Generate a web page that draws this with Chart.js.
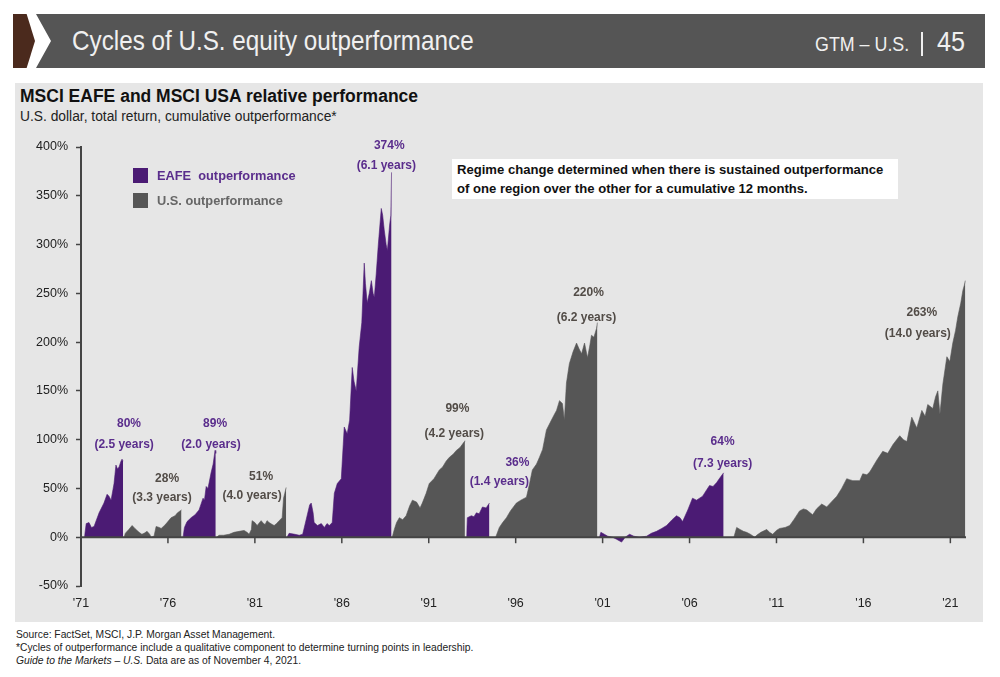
<!DOCTYPE html>
<html>
<head>
<meta charset="utf-8">
<script src="https://cdn.jsdelivr.net/npm/chart.js@4.4.0/dist/chart.umd.min.js"></script>
<style>
  html,body{margin:0;padding:0;}
  body{width:1000px;height:677px;background:#fff;position:relative;overflow:hidden;font-family:"Liberation Sans",Arial,sans-serif;}
  .abs{position:absolute;}
  #chev{left:13px;top:14px;width:22px;height:54px;background:#4b2a1d;clip-path:polygon(0 0,62% 0,100% 50%,62% 100%,0 100%);}
  #bar{left:36px;top:14px;width:949px;height:54px;background:#555555;clip-path:polygon(0 0,100% 0,100% 100%,0 100%,15px 50%);}
  #htitle{left:72px;top:24px;font-size:28px;color:#f0f0f0;line-height:34px;white-space:nowrap;transform:scaleX(0.866);transform-origin:0 0;}
  #hgtm{left:815px;top:31px;font-size:21px;color:#f0f0f0;line-height:26px;white-space:nowrap;transform:scaleX(0.85);transform-origin:0 0;}
  #hsep{left:921px;top:32px;width:2px;height:24px;background:#f0f0f0;}
  #hnum{left:937px;top:25px;font-size:28px;color:#f0f0f0;line-height:34px;transform:scaleX(0.9);transform-origin:0 0;}
  #panel{left:15px;top:83px;width:968px;height:539px;background:#e6e6e6;}
  #ctitle{left:20px;top:86px;font-size:17.5px;font-weight:bold;color:#111;white-space:nowrap;line-height:21px;}
  #csub{left:20px;top:109px;font-size:13.8px;color:#222;white-space:nowrap;line-height:16px;}
  #wrap{left:15px;top:125px;width:970px;height:495px;}
  .lsq{width:15px;height:15px;}
  .ltx{font-size:12.8px;font-weight:bold;white-space:nowrap;line-height:16px;}
  #note{left:452px;top:159px;width:446px;height:40px;background:#fff;font-size:13.1px;font-weight:bold;color:#111;line-height:19px;padding:1px 0 0 5px;box-sizing:border-box;white-space:nowrap;}
  #foot{left:16px;top:628px;font-size:10.3px;color:#222;line-height:13px;white-space:nowrap;}
</style>
</head>
<body>
<div id="chev" class="abs"></div>
<div id="bar" class="abs"></div>
<div id="htitle" class="abs">Cycles of U.S. equity outperformance</div>
<div id="hgtm" class="abs">GTM – U.S.</div>
<div id="hsep" class="abs"></div>
<div id="hnum" class="abs">45</div>
<div id="panel" class="abs"></div>
<div id="ctitle" class="abs">MSCI EAFE and MSCI USA relative performance</div>
<div id="csub" class="abs">U.S. dollar, total return, cumulative outperformance*</div>
<div id="wrap" class="abs"><canvas id="c" width="970" height="495"></canvas></div>
<div class="abs lsq" style="left:133px;top:168px;background:#4b1b74;"></div>
<div class="abs ltx" style="left:157px;top:168px;color:#5a2d8c;">EAFE&nbsp; outperformance</div>
<div class="abs lsq" style="left:133px;top:193px;background:#565656;"></div>
<div class="abs ltx" style="left:157px;top:193px;color:#666;">U.S. outperformance</div>
<div id="note" class="abs">Regime change determined when there is sustained outperformance<br>of one region over the other for a cumulative 12 months.</div>
<div id="foot" class="abs">Source: FactSet, MSCI, J.P. Morgan Asset Management.<br>*Cycles of outperformance include a qualitative component to determine turning points in leadership.<br><i>Guide to the Markets – U.S.</i> Data are as of November 4, 2021.</div>

<script>
// ---------- DATA ----------
// EAFE outperformance cycles: [year, cumulative %]; null separates cycles
const eafeYears = [
  1971.20,1971.30,1971.46,1971.60,1971.75,1972.04,1972.32,1972.50,1972.61,1972.73,1972.90,1973.01,1973.10,1973.19,1973.30,1973.36,1973.42, 1973.45,
  1976.87,1976.95,1977.10,1977.33,1977.56,1977.79,1978.02,1978.10,1978.20,1978.30,1978.37,1978.48,1978.60,1978.71,1978.75, 1978.78,
  1982.85,1982.97,1983.30,1983.55,1983.75,1983.95,1984.15,1984.24,1984.35,1984.41,1984.60,1984.82,1985.00,1985.15,1985.28,1985.45,1985.57,1985.74,1985.97,1986.14,1986.31,1986.45,1986.60,1986.70,1986.83,1987.00,1987.15,1987.29,1987.36,1987.46,1987.58,1987.70,1987.80,1987.87,1987.98,1988.10,1988.27,1988.35,1988.44,1988.55,1988.62,1988.75,1988.82,1988.86, 1988.88,
  1993.18,1993.22,1993.45,1993.60,1993.74,1993.90,1994.09,1994.30,1994.49, 1994.52,
  2000.82,2000.90,2001.10,2001.30,2001.57,2001.80,2002.09,2002.30,2002.55,2002.80,2003.12,2003.53,2003.80,2004.10,2004.40,2004.68,2005.00,2005.25,2005.45,2005.60,2005.90,2006.17,2006.40,2006.75,2007.00,2007.15,2007.35,2007.56,2007.75,2007.96
];
const eafeValues = [
  0,14,15,10,11,25,35,44,42,38,55,74,70,72,78,80,78, null,
  0,10,16,20,23,28,40,38,52,50,56,66,75,89,86, null,
  0,4,3,2,3,18,33,35,25,15,12,14,10,14,12,15,45,55,60,113,106,120,174,160,150,195,220,281,260,240,250,263,250,246,270,300,337,330,315,300,294,320,330,374, null,
  0,20,22,21,25,24,31,30,35, null,
  0,5,3,1,0,-2,-5,0,3,1,0,1,4,6,9,12,18,22,20,16,28,40,38,42,49,53,52,56,61,66
];
// U.S. outperformance cycles
const usYears = [
  1973.48,1973.55,1973.75,1973.94,1974.10,1974.34,1974.50,1974.63,1974.80,1974.95,1975.03,1975.20,1975.32,1975.50,1975.61,1975.80,1975.95,1976.18,1976.41,1976.55,1976.70,1976.78, 1976.80,
  1978.80,1978.94,1979.20,1979.52,1979.80,1980.10,1980.38,1980.55,1980.67,1980.80,1980.84,1981.00,1981.13,1981.36,1981.50,1981.59,1981.70,1981.82,1982.00,1982.11,1982.25,1982.40,1982.57,1982.65,1982.72,1982.80, 1982.82,
  1988.90,1989.02,1989.15,1989.31,1989.50,1989.70,1989.90,1990.06,1990.30,1990.50,1990.63,1990.85,1991.03,1991.30,1991.61,1991.80,1992.00,1992.19,1992.40,1992.59,1992.80,1993.05,1993.08, 1993.10,
  1994.85,1995.06,1995.25,1995.47,1995.70,1996.04,1996.30,1996.62,1996.80,1996.96,1997.20,1997.37,1997.55,1997.77,1998.00,1998.20,1998.35,1998.52,1998.69,1998.80,1998.92,1999.09,1999.30,1999.50,1999.65,1999.79,1999.96,2000.13,2000.25,2000.36,2000.50,2000.65,2000.70, 2000.75,
  2008.55,2008.71,2008.90,2009.10,2009.28,2009.50,2009.75,2009.86,2010.10,2010.44,2010.60,2010.78,2011.00,2011.18,2011.50,2011.76,2012.00,2012.33,2012.55,2012.74,2013.08,2013.30,2013.60,2013.89,2014.20,2014.47,2014.75,2015.04,2015.20,2015.39,2015.79,2015.96,2016.20,2016.37,2016.77,2017.11,2017.40,2017.70,2018.09,2018.30,2018.50,2018.78,2019.07,2019.36,2019.55,2019.70,2019.99,2020.15,2020.28,2020.40,2020.57,2020.80,2020.97,2021.14,2021.30,2021.43,2021.60,2021.72,2021.80,2021.86
];
const usValues = [
  0,4,8,12,9,5,3,4,6,3,0,1,11,10,9,12,15,20,22,25,27,28, null,
  0,2,2,3,5,6,7,5,3,8,17,15,12,17,14,13,17,15,13,12,14,17,20,40,45,51, null,
  0,8,15,20,18,22,32,38,36,30,35,45,55,60,69,72,78,82,85,89,92,98,99, null,
  0,10,15,20,27,35,38,41,55,69,75,82,90,110,118,125,130,140,137,120,158,178,190,199,193,188,199,184,195,207,205,214,220, null,
  0,10,8,6,5,3,0,2,5,8,5,3,7,9,10,12,18,27,29,28,23,29,34,31,37,42,50,60,59,58,58,65,64,67,79,88,86,95,104,100,98,123,112,130,124,136,132,144,150,126,157,185,180,199,212,226,240,253,258,263
];
// Axis tick values and labels
const yTickValues = [-50,0,50,100,150,200,250,300,350,400];
const xTickYears  = [1971,1976,1981,1986,1991,1996,2001,2006,2011,2016,2021];
const xTickLabels = ["'71","'76","'81","'86","'91","'96","'01","'06","'11","'16","'21"];
// Cycle annotations
const cycleSeries   = ['eafe','us','eafe','us','eafe','us','eafe','us','eafe','us'];
const cyclePeaks    = ['80%','28%','89%','51%','374%','99%','36%','220%','64%','263%'];
const cycleDurations= ['(2.5 years)','(3.3 years)','(2.0 years)','(4.0 years)','(6.1 years)','(4.2 years)','(1.4 years)','(6.2 years)','(7.3 years)','(14.0 years)'];
const peakLabelYear = [1973.76,1975.95,1978.71,1981.36,1988.73,1992.65,1996.10,2000.19,2007.90,2019.36];
const peakLabelVal  = [116.8,60.5,116.8,62.5,401.6,132.2,76.8,251.0,98.4,230.5];
const durLabelYear  = [1973.48,1975.66,1978.48,1980.84,1988.56,1992.47,1995.06,2000.07,2007.90,2019.13];
const durLabelVal   = [95.3,41.0,95.3,43.0,381.2,106.6,57.4,225.4,75.8,209.0];

// ---------- STYLE ----------
const PURPLE = '#4b1b74', GRAY = '#565656';
const LABEL_COLORS = {eafe:'#5a2d8c', us:'#524c47'};

const toPts = (xs, ys) => xs.map((x,i)=>({x:x, y:ys[i]}));

const decor = {
  id:'decor',
  afterDatasetsDraw(chart){
    const {ctx, chartArea:a, scales:{x,y}} = chart;
    const y0 = y.getPixelForValue(0);
    ctx.save();
    ctx.strokeStyle = '#444'; ctx.lineWidth = 2;
    ctx.beginPath(); ctx.moveTo(a.left, y0); ctx.lineTo(a.right, y0); ctx.stroke();
    ctx.lineWidth = 1.5;
    xTickYears.forEach(v=>{
      const px = x.getPixelForValue(v);
      ctx.beginPath(); ctx.moveTo(px, y0); ctx.lineTo(px, y0+6); ctx.stroke();
    });
    ctx.font = 'bold 12px "Liberation Sans", Arial, sans-serif';
    ctx.textAlign = 'center'; ctx.textBaseline = 'middle';
    cyclePeaks.forEach((t,i)=>{
      ctx.fillStyle = LABEL_COLORS[cycleSeries[i]];
      ctx.fillText(t, x.getPixelForValue(peakLabelYear[i]), y.getPixelForValue(peakLabelVal[i]));
      ctx.fillText(cycleDurations[i], x.getPixelForValue(durLabelYear[i]), y.getPixelForValue(durLabelVal[i]));
    });
    ctx.restore();
  }
};

new Chart(document.getElementById('c'), {
  type:'line',
  data:{
    datasets:[
      {label:'EAFE outperformance', data:toPts(eafeYears,eafeValues), fill:'origin', backgroundColor:PURPLE, borderColor:PURPLE, borderWidth:0.6, pointRadius:0, tension:0, spanGaps:false},
      {label:'U.S. outperformance', data:toPts(usYears,usValues), fill:'origin', backgroundColor:GRAY, borderColor:GRAY, borderWidth:0.6, pointRadius:0, tension:0, spanGaps:false}
    ]
  },
  options:{
    responsive:false, animation:false, devicePixelRatio:1,
    layout:{padding:{left:0,right:19,top:22,bottom:4}},
    plugins:{legend:{display:false}, tooltip:{enabled:false}},
    scales:{
      x:{
        type:'linear', min:1971, max:2021.9,
        afterBuildTicks:s=>{ s.ticks = xTickYears.map(v=>({value:v})); },
        afterFit:s=>{ s.height = 30; },
        border:{display:false},
        grid:{display:false, drawTicks:false},
        ticks:{padding:10, color:'#222', font:{size:12.5, family:'"Liberation Sans", Arial, sans-serif'}, maxRotation:0, autoSkip:false,
               callback:(v)=>{ const i = xTickYears.indexOf(v); return i>=0 ? xTickLabels[i] : ''; }}
      },
      y:{
        min:-50, max:400,
        afterBuildTicks:s=>{ s.ticks = yTickValues.map(v=>({value:v})); },
        afterFit:s=>{ s.width = 66; },
        border:{display:true, color:'#444', width:2},
        grid:{drawOnChartArea:false, drawTicks:true, tickLength:5, tickColor:'#444', tickWidth:1.5},
        ticks:{padding:8, color:'#222', font:{size:12.5, family:'"Liberation Sans", Arial, sans-serif'}, callback:v=>v+'%'}
      }
    }
  },
  plugins:[decor]
});
</script>
</body>
</html>
